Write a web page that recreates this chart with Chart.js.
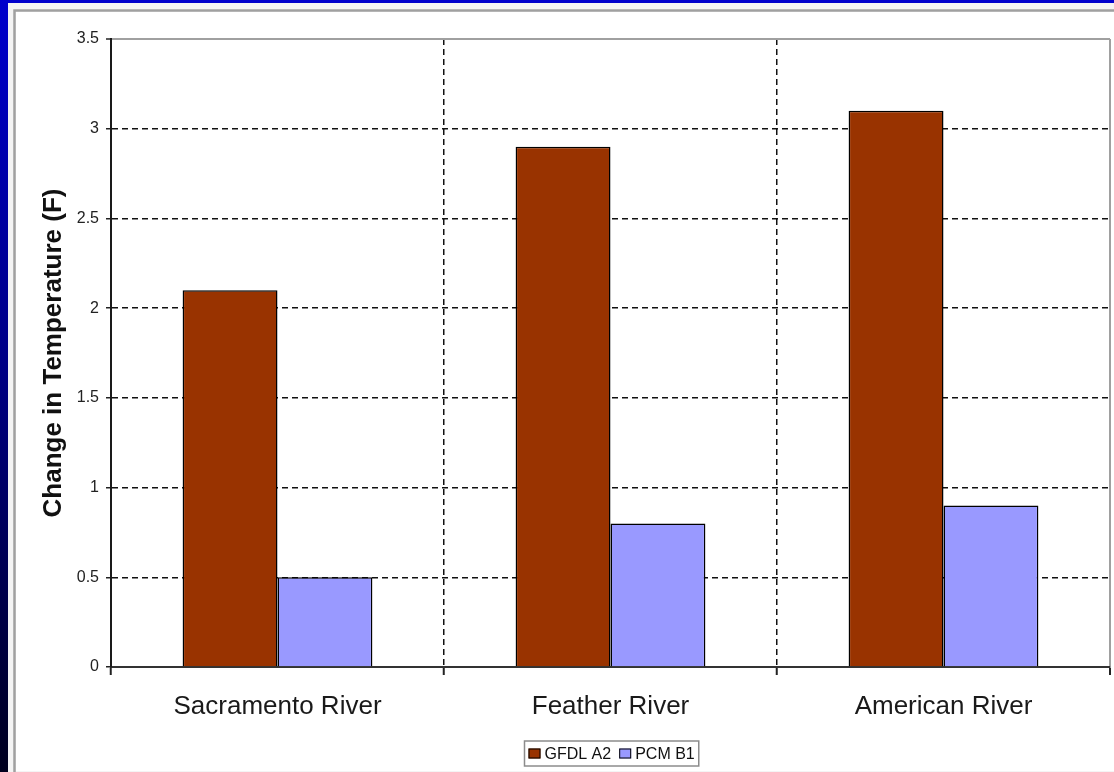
<!DOCTYPE html>
<html>
<head>
<meta charset="utf-8">
<title>Change in Temperature by River</title>
<script src="https://cdn.jsdelivr.net/npm/chart.js@4.4.1/dist/chart.umd.min.js"></script>
<style>
  html, body { margin: 0; padding: 0; background: #0000cc; }
  #wrap { position: relative; width: 1114px; height: 772px; }
  canvas { display: block; }
</style>
</head>
<body>
<div id="wrap"><canvas id="chart" width="1114" height="772"></canvas></div>
<script>
// River basins and projected warming for two climate scenarios
const categories = ['Sacramento River', 'Feather River', 'American River'];
const gfdlA2 = [2.1, 2.9, 3.1];
const pcmB1 = [0.5, 0.8, 0.9];
const seriesNames = ['GFDL A2', 'PCM B1'];
const yTickValues = [0, 0.5, 1, 1.5, 2, 2.5, 3, 3.5];

const FONT = "'Liberation Sans', Arial, Helvetica, sans-serif";

// Slide backdrop: blue frame, white panel and grey chart frame
const backdrop = {
  id: 'backdrop',
  beforeDraw(chart) {
    const { ctx, width, height } = chart;
    ctx.save();
    ctx.fillStyle = '#0000cc';
    ctx.fillRect(0, 0, width, height);
    const g = ctx.createLinearGradient(0, 0, 0, height);
    g.addColorStop(0, '#0000cc');
    g.addColorStop(0.5, '#000080');
    g.addColorStop(1, '#00001e');
    ctx.fillStyle = g;
    ctx.fillRect(0, 0, 9, height);
    ctx.fillStyle = '#f4f4f4';
    ctx.fillRect(8, 3, width - 8, height - 3);
    ctx.fillStyle = '#ffffff';
    ctx.fillRect(16, 12, width - 16, height - 13);
    ctx.strokeStyle = '#a0a0a0';
    ctx.lineWidth = 2.5;
    ctx.beginPath();
    ctx.moveTo(14.5, height);
    ctx.lineTo(14.5, 10.5);
    ctx.lineTo(width, 10.5);
    ctx.stroke();
    ctx.restore();
  }
};

// Boxed legend under the axis
const boxedLegend = {
  id: 'boxedLegend',
  afterDraw(chart) {
    const { ctx } = chart;
    const ds = chart.data.datasets;
    ctx.save();
    ctx.font = '16px ' + FONT;
    const sw = 12, gapText = 4, gapItem = 8, padX = 4;
    let total = padX * 2;
    const widths = ds.map(d => ctx.measureText(d.label).width);
    widths.forEach((w, i) => { total += sw + gapText + w + (i < ds.length - 1 ? gapItem : 0); });
    const cx = 611;
    const top = 741, h = 25;
    const left = Math.round(cx - total / 2) + 0.5;
    ctx.strokeStyle = '#8c8c8c';
    ctx.lineWidth = 1.5;
    ctx.fillStyle = '#ffffff';
    ctx.fillRect(left, top, total, h);
    ctx.strokeRect(left, top, total, h);
    let x = left + padX;
    const midY = top + h / 2;
    ds.forEach((d, i) => {
      ctx.fillStyle = d.backgroundColor;
      ctx.fillRect(x, midY - 5, sw, 10);
      ctx.strokeStyle = '#000';
      ctx.lineWidth = 1;
      ctx.strokeRect(x + 0.5, midY - 5 + 0.5, sw - 1, 9);
      x += sw + gapText;
      ctx.fillStyle = '#111';
      ctx.textBaseline = 'middle';
      ctx.textAlign = 'left';
      ctx.fillText(d.label, x, midY + 1);
      x += widths[i] + gapItem;
    });
    ctx.restore();
  }
};

new Chart(document.getElementById('chart'), {
  type: 'bar',
  data: {
    labels: categories,
    datasets: [
      {
        label: seriesNames[0],
        data: gfdlA2,
        backgroundColor: '#993300',
        borderColor: '#000000',
        borderWidth: 1.5,
        categoryPercentage: 0.57,
        barPercentage: 1.0
      },
      {
        label: seriesNames[1],
        data: pcmB1,
        backgroundColor: '#9999ff',
        borderColor: '#000000',
        borderWidth: 1.5,
        categoryPercentage: 0.57,
        barPercentage: 1.0
      }
    ]
  },
  options: {
    responsive: false,
    animation: false,
    devicePixelRatio: 1,
    layout: { padding: { left: 0, top: 39, right: 4, bottom: 0 } },
    plugins: {
      legend: { display: false },
      tooltip: { enabled: false }
    },
    scales: {
      x: {
        offset: true,
        grid: {
          offset: true,
          drawOnChartArea: true,
          drawTicks: true,
          tickLength: 8,
          lineWidth: ctx => (ctx.type === 'scale' || ctx.index === undefined) ? 2 : 1.5,
          color: ctx => {
            if (ctx.type === 'scale' || ctx.index === undefined) return '#a0a0a0';
            if (ctx.index === 0) return 'rgba(0,0,0,0)';
            return '#111111';
          },
          tickColor: '#222222',
          tickWidth: 2
        },
        border: {
          display: true,
          color: '#333333',
          width: 2,
          dash: ctx => (ctx.type === 'scale' || ctx.index === undefined) ? [] : [6, 4]
        },
        ticks: {
          color: '#1a1a1a',
          padding: 16,
          maxRotation: 0,
          font: { family: FONT, size: 26 }
        },
        afterFit: s => { s.height = 105; }
      },
      y: {
        min: 0,
        max: 3.5,
        afterBuildTicks: s => { s.ticks = yTickValues.map(v => ({ value: v })); },
        grid: {
          drawTicks: true,
          tickLength: 5,
          lineWidth: ctx => (ctx.tick && ctx.tick.value === 3.5) ? 2 : 1.5,
          color: ctx => {
            if (!ctx.tick) return '#111111';
            if (ctx.tick.value === 3.5) return '#a0a0a0';
            if (ctx.tick.value === 0) return 'rgba(0,0,0,0)';
            return '#111111';
          },
          tickColor: '#222222',
          tickWidth: 1.5
        },
        border: {
          display: true,
          color: '#1a1a1a',
          width: 2,
          dash: ctx => (ctx.tick && ctx.tick.value === 3.5) ? [] : [6, 4]
        },
        ticks: {
          color: '#222222',
          padding: 7,
          font: { family: FONT, size: 16 },
          callback: v => String(v)
        },
        title: {
          display: true,
          text: 'Change in Temperature (F)',
          color: '#111111',
          padding: { top: 38, bottom: 0 },
          font: { family: FONT, size: 26, weight: 'bold' }
        },
        afterFit: s => { s.width = 111; }
      }
    }
  },
  plugins: [backdrop, boxedLegend]
});
</script>
</body>
</html>
